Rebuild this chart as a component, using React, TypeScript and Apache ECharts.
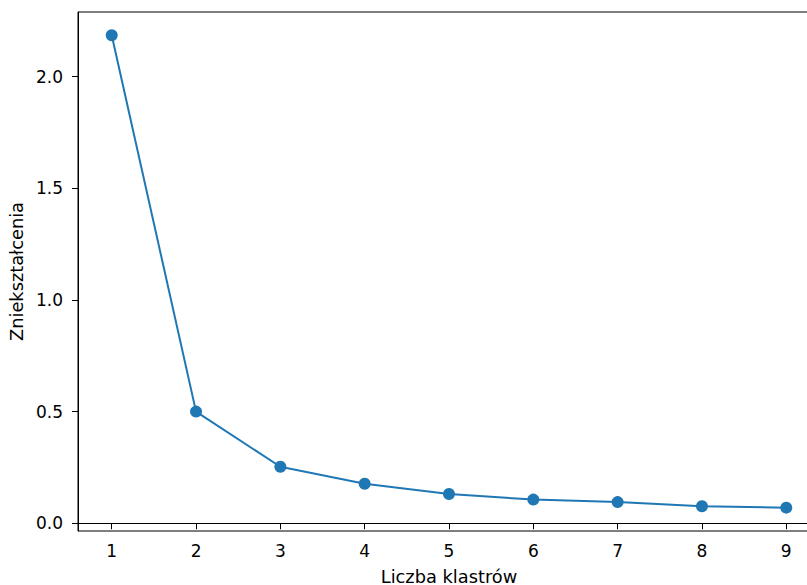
import React, { useEffect, useRef } from "react";
import * as echarts from "echarts";

const clusters = [1, 2, 3, 4, 5, 6, 7, 8, 9];
const distortions = [2.185, 0.5, 0.253, 0.177, 0.131, 0.106, 0.095, 0.076, 0.07];
const xTicks = [1, 2, 3, 4, 5, 6, 7, 8, 9];
const yTicks = [0, 0.5, 1.0, 1.5, 2.0];

const FONT = "DejaVu Sans";

export default function App() {
  const ref = useRef<HTMLDivElement>(null);
  useEffect(() => {
    document.body.style.margin = "0";
    const chart = echarts.init(ref.current!, undefined, { renderer: "svg" });
    chart.setOption({
      animation: false,
      backgroundColor: "#ffffff",
      grid: {
        left: 78,
        top: 12,
        right: -13,
        bottom: 54,
        show: true,
        borderColor: "#000",
        borderWidth: 1,
        containLabel: false,
        outerBoundsMode: "none",
      },
      xAxis: {
        type: "value",
        min: 0.6,
        max: 9.4,
        name: "Liczba klastrów",
        nameLocation: "middle",
        nameGap: 36,
        nameTextStyle: { fontFamily: FONT, fontSize: 17.8, color: "#000" },
        axisLine: { show: true, lineStyle: { color: "#000", width: 1 } },
        axisTick: {
          show: true,
          length: 6,
          lineStyle: { color: "#000", width: 1 },
          customValues: xTicks,
        },
        axisLabel: {
          fontFamily: FONT,
          fontSize: 17,
          color: "#000",
          margin: 11,
          customValues: xTicks,
          formatter: (v: number) => String(v),
        },
        splitLine: { show: false },
      },
      yAxis: {
        type: "value",
        min: -0.0345,
        max: 2.289,
        name: "Zniekształcenia",
        nameLocation: "middle",
        nameGap: 51,
        nameRotate: 90,
        nameTextStyle: { fontFamily: FONT, fontSize: 17.8, color: "#000" },
        axisLine: { show: true, lineStyle: { color: "#000", width: 1 } },
        axisTick: {
          show: true,
          length: 6,
          lineStyle: { color: "#000", width: 1 },
          customValues: yTicks,
        },
        axisLabel: {
          fontFamily: FONT,
          fontSize: 17,
          color: "#000",
          margin: 15,
          customValues: yTicks,
          formatter: (v: number) => v.toFixed(1),
        },
        splitLine: { show: false },
      },
      series: [
        {
          type: "line",
          data: clusters.map((c, i) => [c, distortions[i]]),
          symbol: "circle",
          symbolSize: 12,
          itemStyle: { color: "#1f77b4" },
          lineStyle: { color: "#1f77b4", width: 2 },
        },
      ],
    });
    return () => chart.dispose();
  }, []);
  return (
    <div
      ref={ref}
      style={{ position: "absolute", left: 0, top: 0, width: 807, height: 585 }}
    />
  );
}
